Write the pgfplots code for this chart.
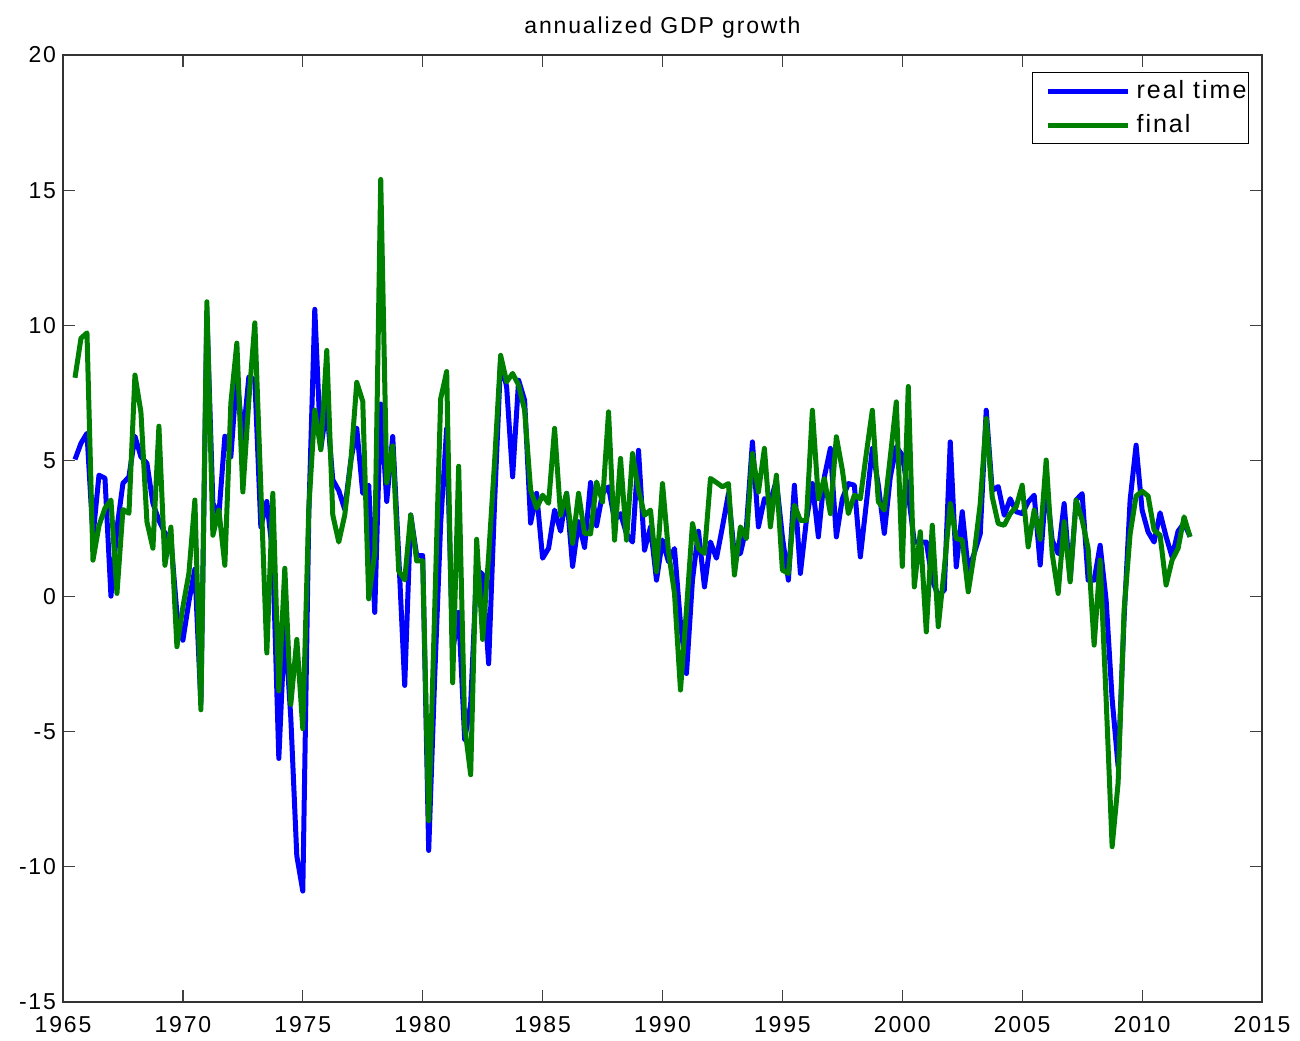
\documentclass[border=0pt]{standalone}
\usepackage{fontspec}
\setmainfont{Liberation Sans}[LetterSpace=8]
\usepackage{pgfplots}
\usepackage{pgfplotstable}
\pgfplotsset{compat=1.18}
\definecolor{mblue}{rgb}{0,0,1}
\definecolor{mgreen}{rgb}{0,0.5,0}

% quarterly annualized GDP growth: t, real time, final
\pgfplotstableread{
t rt fin
1965.50 5.05 8.07
1965.75 5.65 9.53
1966.00 6.02 9.73
1966.25 2.2 1.33
1966.50 4.47 2.6
1966.75 4.36 3.25
1967.00 0.0 3.55
1967.25 2.5 0.1
1967.50 4.17 3.2
1967.75 4.41 3.06
1968.00 5.91 8.17
1968.25 5.15 6.8
1968.50 4.91 2.75
1968.75 3.43 1.77
1969.00 2.8 6.28
1969.25 2.33 1.14
1969.50 2.1 2.55
1969.75 -0.63 -1.87
1970.00 -1.63 -0.4
1970.25 -0.2 0.84
1970.50 1.0 3.55
1970.75 -4.0 -4.2
1971.00 10.5 10.88
1971.25 3.43 2.25
1971.50 3.0 3.18
1971.75 5.91 1.14
1972.00 5.15 7.13
1972.25 8.2 9.35
1972.50 5.76 3.85
1972.75 8.1 7.24
1973.00 8.0 10.1
1973.25 2.56 4.0
1973.50 3.5 -2.1
1973.75 1.5 3.8
1974.00 -6.0 -3.5
1974.25 -1.0 1.03
1974.50 -4.5 -4.0
1974.75 -9.6 -1.6
1975.00 -10.9 -4.9
1975.25 3.0 3.26
1975.50 10.6 6.88
1975.75 5.45 5.41
1976.00 7.0 9.08
1976.25 4.3 3.0
1976.50 3.9 2.0
1976.75 3.2 3.0
1977.00 5.0 4.94
1977.25 6.2 7.9
1977.50 3.8 7.2
1977.75 4.1 -0.1
1978.00 -0.6 1.6
1978.25 7.1 15.4
1978.50 3.5 4.19
1978.75 5.9 5.55
1979.00 1.5 0.93
1979.25 -3.3 0.6
1979.50 3.0 3.0
1979.75 1.5 1.3
1980.00 1.5 1.3
1980.25 -9.4 -8.3
1980.50 -3.0 -0.5
1980.75 2.7 7.3
1981.00 6.2 8.3
1981.25 -2.0 -3.2
1981.50 -0.6 4.8
1981.75 -5.3 -4.8
1982.00 -4.0 -6.6
1982.25 1.0 2.1
1982.50 0.8 -1.6
1982.75 -2.5 1.5
1983.00 3.5 5.0
1983.25 8.72 8.9
1983.50 7.74 7.92
1983.75 4.41 8.23
1984.00 7.98 7.8
1984.25 7.24 6.87
1984.50 2.7 3.92
1984.75 3.8 3.25
1985.00 1.4 3.73
1985.25 1.77 3.43
1985.50 3.18 6.2
1985.75 2.4 2.99
1986.00 3.8 3.8
1986.25 1.1 1.95
1986.50 2.75 3.8
1986.75 1.8 2.32
1987.00 4.2 2.3
1987.25 2.6 4.22
1987.50 3.8 3.48
1987.75 4.04 6.81
1988.00 2.8 2.07
1988.25 3.05 5.09
1988.50 2.3 2.07
1988.75 2.0 5.27
1989.00 5.39 3.92
1989.25 1.7 2.99
1989.50 2.56 3.18
1989.75 0.59 0.9
1990.00 2.07 4.16
1990.25 1.27 1.64
1990.50 1.76 0.1
1990.75 -1.0 -3.47
1991.00 -2.86 -0.5
1991.25 0.6 2.68
1991.50 2.4 1.76
1991.75 0.34 1.58
1992.00 2.0 4.35
1992.25 1.4 4.2
1992.50 2.56 4.04
1992.75 3.79 4.16
1993.00 1.5 0.78
1993.25 1.58 2.56
1993.50 2.56 2.13
1993.75 5.7 5.27
1994.00 2.56 3.85
1994.25 3.6 5.46
1994.50 3.5 2.56
1994.75 4.28 4.47
1995.00 2.19 0.96
1995.25 0.59 0.84
1995.50 4.1 3.36
1995.75 0.84 2.8
1996.00 2.8 2.8
1996.25 4.16 6.87
1996.50 2.19 3.6
1996.75 4.41 4.35
1997.00 5.46 3.05
1997.25 2.19 5.89
1997.50 3.6 4.66
1997.75 4.16 3.05
1998.00 4.1 3.73
1998.25 1.45 3.6
1998.50 3.42 5.27
1998.75 5.46 6.87
1999.00 4.1 3.49
1999.25 2.32 3.18
1999.50 4.41 5.15
1999.75 5.52 7.18
2000.00 5.21 1.1
2000.25 3.8 7.75
2000.50 2.0 0.34
2000.75 2.0 2.38
2001.00 2.0 -1.32
2001.25 0.6 2.62
2001.50 0.0 -1.13
2001.75 0.22 1.0
2002.00 5.7 3.42
2002.25 1.08 2.13
2002.50 3.12 2.07
2002.75 0.96 0.16
2003.00 1.58 1.58
2003.25 2.3 3.42
2003.50 6.87 6.56
2003.75 3.9 3.67
2004.00 4.05 2.68
2004.25 2.99 2.62
2004.50 3.6 3.05
2004.75 3.12 3.3
2005.00 3.05 4.1
2005.25 3.48 1.82
2005.50 3.73 3.18
2005.75 1.15 2.1
2006.00 4.2 5.03
2006.25 2.07 1.57
2006.50 1.57 0.1
2006.75 3.42 2.75
2007.00 0.59 0.53
2007.25 3.55 3.55
2007.50 3.79 2.81
2007.75 0.59 1.76
2008.00 0.59 -1.81
2008.25 1.88 1.33
2008.50 -0.15 -3.8
2008.75 -3.8 -9.26
2009.00 -6.3 -6.9
2009.25 -0.8 -0.5
2009.50 3.55 2.3
2009.75 5.58 3.7
2010.00 3.18 3.88
2010.25 2.37 3.7
2010.50 2.0 2.44
2010.75 3.08 2.25
2011.00 2.2 0.41
2011.25 1.45 1.33
2011.50 2.4 1.76
2011.75 2.7 2.93
2012.00 2.2 2.19
}\gdp

\begin{document}
\begin{tikzpicture}
\begin{axis}[
  name=ax,
  scale only axis,
  width=599.5pt, height=473.5pt,
  xmin=1965, xmax=2015, ymin=-15, ymax=20,
  xtick={1965,1970,...,2015},
  xticklabels={1965,1970,1975,1980,1985,1990,1995,2000,2005,2010,2015},
  ytick={-15,-10,...,20},
  yticklabels={-15,-10,-5,0,5,10,15,20},
  tick align=inside,
  major tick length=6pt,
  tick style={black!75, line width=0.6pt},
  axis line style={black!80, line width=0.6pt},
  ticklabel style={font=\fontsize{11.5}{13}\selectfont},
  xticklabel style={yshift=-3.5pt},
  title={annualized GDP growth},
  title style={font=\fontsize{11.5}{13}\selectfont, at={(0.5,1)}, anchor=base, yshift=4.5pt},
  legend cell align=left,
  legend style={at={(0.9892,0.982)}, anchor=north east, draw=black,
    line width=0.6pt, fill=white, font=\fontsize{12.5}{14}\selectfont,
    row sep=2.5pt, inner xsep=0pt, inner ysep=2pt,
    nodes={inner xsep=1pt}},
  legend image code/.code={%
    \path[draw=none] (0pt,0pt) -- (51pt,0pt);
    \draw[#1, line width=2.5pt] (7.5pt,0pt) -- (47.5pt,0pt);},
]
\addplot[mblue, line width=2.5pt, line join=round] table[x=t, y=rt] {\gdp};
\addplot[mgreen, line width=2.5pt, line join=round] table[x=t, y=fin] {\gdp};
\legend{real time, final}
\end{axis}
\path (ax.south west) ++(-31.5pt,-19.5pt) coordinate (bl);
\path (ax.north east) ++(19pt,27.5pt) coordinate (tr);
\pgfresetboundingbox
\path[use as bounding box] (bl) rectangle (tr);
\end{tikzpicture}
\end{document}
